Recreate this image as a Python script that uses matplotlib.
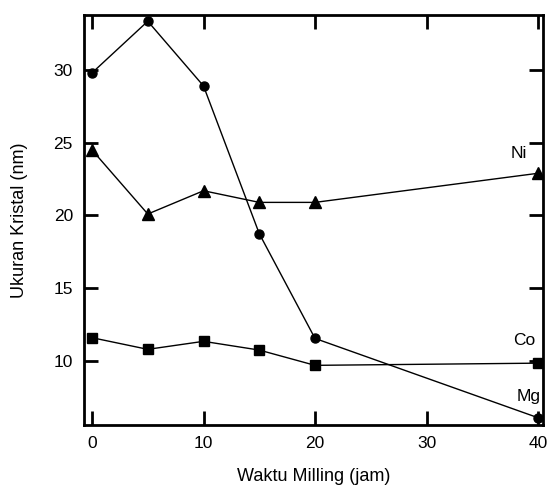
import matplotlib
matplotlib.use('Agg')
import matplotlib.pyplot as plt

# data
waktu = [0, 5, 10, 15, 20, 40]
mg = [29.8, 33.35, 28.9, 18.75, 11.55, 6.1]
ni = [24.5, 20.1, 21.7, 20.9, 20.9, 22.9]
co = [11.6, 10.8, 11.35, 10.75, 9.7, 9.85]

x_ticks = [0, 10, 20, 30, 40]
y_ticks = [10, 15, 20, 25, 30]

plt.rcParams['font.family'] = ['Liberation Sans', 'DejaVu Sans']

fig = plt.figure(figsize=(5.48, 4.88), dpi=100)
ax = fig.add_axes([0.1533, 0.1291, 0.8376, 0.8402])

ax.plot(waktu, mg, color='black', lw=1.0, marker='o', ms=6.5)
ax.plot(waktu, ni, color='black', lw=1.0, marker='^', ms=8)
ax.plot(waktu, co, color='black', lw=1.0, marker='s', ms=7.5)

ax.text(38.3, 24.26, 'Ni', ha='center', va='center', fontsize=12.5)
ax.text(38.75, 11.44, 'Co', ha='center', va='center', fontsize=12.5)
ax.text(39.2, 7.53, 'Mg', ha='center', va='center', fontsize=12.5)

ax.set_xlim(-0.72, 40.45)
ax.set_ylim(5.6, 33.78)
ax.set_xticks(x_ticks)
ax.set_yticks(y_ticks)
ax.tick_params(direction='in', length=10, width=2, top=True, right=True,
               labelsize=12.5, pad=8)
for s in ax.spines.values():
    s.set_linewidth(2)

ax.set_xlabel('Waktu Milling (jam)', fontsize=13, labelpad=12)
ax.set_ylabel('Ukuran Kristal (nm)', fontsize=13, labelpad=18)

fig.savefig('out.png', dpi=100)
